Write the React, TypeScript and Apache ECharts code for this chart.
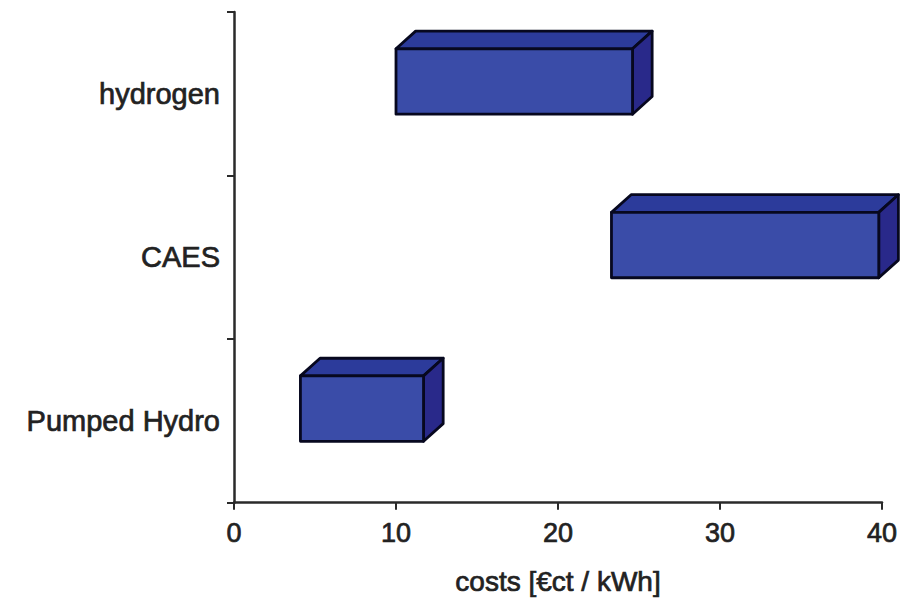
import React, { useEffect, useRef } from "react";
import * as echarts from "echarts";

// Storage technologies, listed bottom to top on the category axis
const categories = ["Pumped Hydro", "CAES", "hydrogen"];
// Cost range per technology in €ct / kWh
const lowCosts = [4.1, 23.3, 10.0];
const highCosts = [11.7, 39.8, 24.6];
const xTicks = [0, 10, 20, 30, 40];

const FONT = "'Liberation Sans', Arial, Helvetica, sans-serif";
const INK = "#222222";

export default function App() {
  const ref = useRef<HTMLDivElement>(null);

  useEffect(() => {
    if (!ref.current) return;
    const chart = echarts.init(ref.current, null, { renderer: "svg" });

    const data = categories.map((_, i) => [i, lowCosts[i], highCosts[i]]);

    const renderBox = (params: any, api: any) => {
      const cat = api.value(0);
      const p0 = api.coord([api.value(1), cat]);
      const p1 = api.coord([api.value(2), cat]);
      const band = api.size([0, 1])[1];
      const x0 = p0[0];
      const x1 = p1[0];
      const cy = p0[1];
      const top = cy - band * 0.275;
      const bottom = cy + band * 0.125;
      const dx = band * 0.12;
      const dy = band * 0.108;
      const stroke = "#07081f";
      const lw = 2.8;
      return {
        type: "group",
        children: [
          {
            type: "polygon",
            shape: { points: [[x0, top], [x0 + dx, top - dy], [x1 + dx, top - dy], [x1, top]] },
            style: { fill: "#2c3b9b", stroke, lineWidth: lw, lineJoin: "round" },
          },
          {
            type: "polygon",
            shape: { points: [[x1, top], [x1 + dx, top - dy], [x1 + dx, bottom - dy], [x1, bottom]] },
            style: { fill: "#29298a", stroke, lineWidth: lw, lineJoin: "round" },
          },
          {
            type: "polygon",
            shape: { points: [[x0, top], [x1, top], [x1, bottom], [x0, bottom]] },
            style: { fill: "#3a4ca8", stroke, lineWidth: lw, lineJoin: "round" },
          },
        ],
      };
    };

    const textStyle = (size: number) => ({
      fontFamily: FONT,
      fontSize: size,
      color: INK,
      textBorderColor: INK,
      textBorderWidth: 0.7,
    });

    chart.setOption({
      animation: false,
      backgroundColor: "#ffffff",
      grid: { left: 234, right: 34, top: 12, bottom: 98, containLabel: false },
      xAxis: {
        type: "value",
        min: xTicks[0],
        max: xTicks[xTicks.length - 1],
        interval: 10,
        name: "costs [€ct / kWh]",
        nameLocation: "middle",
        nameGap: 65,
        nameTextStyle: textStyle(28),
        axisLine: { show: true, lineStyle: { color: "#2a2a2a", width: 2.5 } },
        axisTick: { show: true, length: 7, lineStyle: { color: "#2a2a2a", width: 2 } },
        axisLabel: { margin: 17, ...textStyle(27) },
        splitLine: { show: false },
      },
      yAxis: {
        type: "category",
        data: categories,
        boundaryGap: true,
        axisLine: { show: true, lineStyle: { color: "#2a2a2a", width: 2.5 } },
        axisTick: { show: true, length: 7, lineStyle: { color: "#2a2a2a", width: 2 } },
        axisLabel: { margin: 14, ...textStyle(29) },
        splitLine: { show: false },
      },
      series: [
        {
          type: "custom",
          renderItem: renderBox,
          encode: { x: [1, 2], y: 0 },
          data,
          clip: false,
        },
      ],
    });

    return () => chart.dispose();
  }, []);

  return (
    <div
      ref={ref}
      style={{ position: "fixed", left: 0, top: 0, width: 916, height: 601 }}
    />
  );
}
